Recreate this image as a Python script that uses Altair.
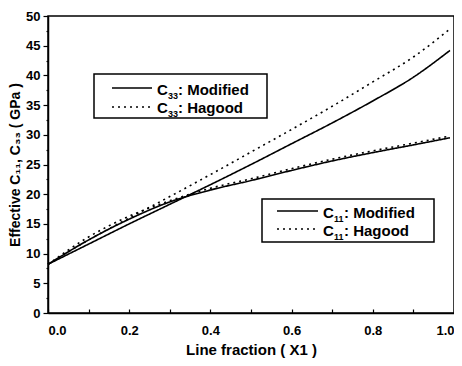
import altair as alt
import pandas as pd

x_vals = [0.0, 0.1, 0.2, 0.3, 0.4, 0.5, 0.6, 0.7, 0.8, 0.9, 0.99]
c33_modified = [8.2, 11.6, 15.0, 18.3, 21.6, 25.0, 28.5, 32.0, 35.7, 39.7, 44.2]
c33_hagood = [8.2, 12.3, 16.0, 19.6, 23.3, 27.1, 30.9, 34.8, 38.9, 43.1, 47.8]
c11_modified = [8.2, 12.3, 15.8, 18.7, 20.7, 22.3, 24.0, 25.6, 27.0, 28.3, 29.5]
c11_hagood = [8.2, 12.8, 16.3, 18.9, 21.0, 22.6, 24.3, 25.9, 27.3, 28.6, 29.8]

series = {
    "C33 Modified": (c33_modified, "solid"),
    "C33 Hagood": (c33_hagood, "dot"),
    "C11 Modified": (c11_modified, "solid"),
    "C11 Hagood": (c11_hagood, "dot"),
}

rows = []
for name, (vals, style) in series.items():
    for xv, yv in zip(x_vals, vals):
        rows.append({"x": xv, "y": yv, "series": name, "style": style})
df = pd.DataFrame(rows)

FONT = "Liberation Sans"
W, H = 406, 297

xscale = alt.Scale(domain=[0, 1], nice=False)
yscale = alt.Scale(domain=[0, 50], nice=False)

x_ticks = [round(i * 0.1, 1) for i in range(11)]
y_ticks = [i * 2.5 for i in range(21)]

base = alt.Chart(df)

lines = base.mark_line(color="black", interpolate="monotone", strokeWidth=1.6).encode(
    x=alt.X("x:Q", scale=xscale,
            axis=alt.Axis(title="Line fraction ( X1 )", values=x_ticks,
                          labelExpr="round(datum.value*10) % 2 === 0 ? format(datum.value, '.1f') : ''",
                          tickSize=alt.ExprRef(expr="-4"),
                          labelPadding=15, titlePadding=5, titleFontSize=15)),
    y=alt.Y("y:Q", scale=yscale,
            axis=alt.Axis(title="Effective C\u2081\u2081, C\u2083\u2083 ( GPa )", values=y_ticks,
                          labelExpr="datum.value % 5 === 0 ? datum.label : ''",
                          tickSize={"condition": {"test": "datum.value % 5 === 0", "value": 5}, "value": 2},
                          labelPadding=3, titlePadding=3, titleFontSize=14)),
    detail="series:N",
    strokeDash=alt.StrokeDash("style:N",
                              scale=alt.Scale(domain=["solid", "dot"], range=[[1, 0], [2, 4]]),
                              legend=None),
)

layers = [lines]
ONE = "datum.x == 0 && datum.series == 'C33 Modified'"


def legend_box(x0, y0, x1, y1):
    return alt.Chart(df).mark_rect(fill="white", stroke="black", strokeWidth=1.5).encode(
        x=alt.value(x0), x2=alt.value(x1), y=alt.value(y0), y2=alt.value(y1)
    ).transform_filter(ONE)


def legend_line(x0, x1, yv, dash):
    m = alt.Chart(df).mark_rule(color="black", strokeWidth=1.6, strokeDash=dash)
    return m.encode(x=alt.value(x0), x2=alt.value(x1), y=alt.value(yv)).transform_filter(ONE)


def legend_text(x0, yc, sub, rest):
    c = alt.Chart(df).mark_text(text="C", font=FONT, fontWeight="bold", fontSize=15,
                                align="left", baseline="middle", color="black").encode(
        x=alt.value(x0), y=alt.value(yc)).transform_filter(ONE)
    s = alt.Chart(df).mark_text(text=sub, font=FONT, fontWeight="bold", fontSize=9,
                                align="left", baseline="middle", color="black").encode(
        x=alt.value(x0 + 11), y=alt.value(yc + 6)).transform_filter(ONE)
    r = alt.Chart(df).mark_text(text=rest, font=FONT, fontWeight="bold", fontSize=15,
                                align="left", baseline="middle", color="black").encode(
        x=alt.value(x0 + 21), y=alt.value(yc)).transform_filter(ONE)
    return [c, s, r]


# upper legend (C33)
layers.append(legend_box(46, 58, 219, 102))
layers.append(legend_line(64, 104, 72, [1, 0]))
layers.append(legend_line(64, 104, 91, [2, 4]))
layers += legend_text(109, 74, "33", ": Modified")
layers += legend_text(109, 92, "33", ": Hagood")

# lower legend (C11)
layers.append(legend_box(214, 183, 386, 226))
layers.append(legend_line(229, 270, 195, [1, 0]))
layers.append(legend_line(229, 270, 213, [2, 4]))
layers += legend_text(275, 197, "11", ": Modified")
layers += legend_text(275, 215, "11", ": Hagood")

chart = alt.layer(*layers).properties(
    width=W, height=H,
    autosize=alt.AutoSizeParams(type="none"),
    padding={"left": 40, "top": 8, "right": 0, "bottom": 45},
).configure_view(
    stroke="black", strokeWidth=1.5
).configure_axis(
    domainColor="black", domainWidth=1.5, tickColor="black", tickWidth=1.2,
    labelFont=FONT, labelFontWeight="bold", labelFontSize=13, labelColor="black",
    titleFont=FONT, titleFontWeight="bold", titleFontSize=15, titleColor="black",
    grid=False,
)

chart.save("out.html", embed_options={"renderer": "svg", "actions": False})
